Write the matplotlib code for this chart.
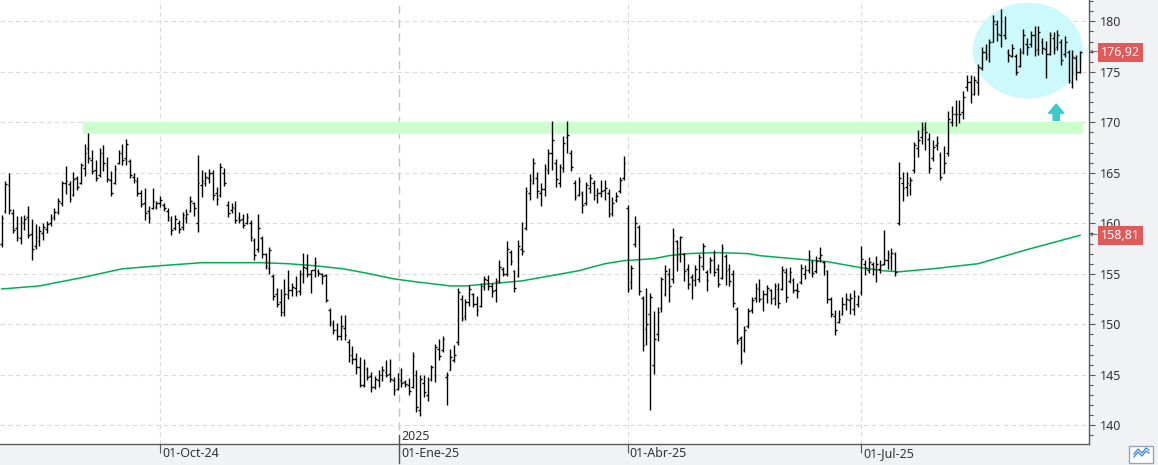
import matplotlib
matplotlib.use("Agg")
import matplotlib.pyplot as plt
import matplotlib.transforms as mtransforms
from matplotlib.collections import LineCollection
from matplotlib.patches import Ellipse, Rectangle
from matplotlib.lines import Line2D

plt.rcParams["font.family"] = ["Noto Sans", "DejaVu Sans"]

# daily bars (index 0 = first visible session)
HIGHS = [
    160.8, 164.2, 165.0, 161.4, 160.7, 160.7, 160.8, 161.7, 160.4, 159.9,
    159.7, 160.0, 160.2, 160.9, 161.5, 162.5, 164.2, 165.7, 164.2, 165.1,
    164.7, 166.0, 167.9, 168.9, 167.3, 166.3, 167.5, 167.8, 166.6, 165.2,
    165.8, 167.3, 167.9, 168.3, 166.4, 165.0, 164.6, 163.3, 163.5, 161.7,
    163.5, 162.2, 162.7,
    162.0, 161.5, 160.7, 160.8, 160.3, 161.1, 161.4, 162.7, 162.1, 166.8,
    165.3, 165.1, 165.4, 165.3, 163.6, 166.0, 165.5, 162.2, 162.0, 162.2,
    161.1, 160.9, 161.0, 160.3, 158.5, 160.9, 158.7, 157.1, 157.7, 155.0,
    153.6, 153.5, 154.5, 155.4, 154.1, 154.8, 155.4, 157.1, 157.0, 155.4,
    156.7,
    155.5, 155.1, 155.0, 151.6, 150.4, 150.1, 150.9, 150.9, 148.5, 147.9,
    147.2, 146.8, 146.6, 145.8, 145.3, 144.9, 145.5, 145.9, 146.5, 146.6,
    144.8, 145.2, 145.7, 144.5, 144.7, 147.3, 145.5, 145.0, 145.0, 144.8,
    146.0, 148.1, 148.5, 148.8, 145.3, 147.6, 148.0, 153.6, 152.9, 152.5,
    153.9,
    153.1, 152.8, 154.1, 154.8, 154.9, 154.1, 154.6, 156.4, 155.7, 158.2,
    157.4, 155.4, 158.3, 160.1, 163.6, 164.9, 166.5, 165.1, 164.0, 165.9,
    167.4, 170.1, 166.4, 165.9, 168.6, 170.1, 167.3, 164.3, 164.6, 163.2,
    164.1, 164.9, 164.3, 163.5, 164.3, 164.3, 163.4, 162.6, 163.1, 164.6,
    166.7,
    161.8, 155.9, 160.7, 159.8, 152.8, 153.6, 153.1, 151.3, 151.7, 154.7,
    155.9, 155.6, 159.5, 158.3, 158.7, 157.1, 156.0, 155.0, 155.9, 157.0,
    158.1, 155.4, 156.7, 157.4, 156.0, 158.0, 157.0, 156.0, 155.4, 151.7,
    148.8, 149.8, 151.6, 152.7, 154.1, 154.5, 153.4, 153.9, 153.5, 154.1,
    154.1,
    155.8, 155.6, 155.7, 154.6, 154.1, 156.0, 155.9, 157.4, 156.4, 156.8,
    157.7, 156.3, 155.4, 152.7, 151.4, 151.4, 152.7, 153.1, 153.1, 153.4,
    152.9, 157.8, 156.4, 156.7, 156.2, 156.8, 156.4, 159.3, 157.4, 157.6,
    157.2, 166.1, 165.1, 165.1, 164.6, 168.1, 169.2, 170.0, 170.0, 168.9,
    168.2,
    168.6, 167.1, 167.7, 171.1, 171.6, 172.2, 172.2, 173.1, 174.7, 174.7,
    174.6, 175.8, 177.5, 177.8, 178.2, 180.6, 180.1, 181.2, 180.5, 177.3,
    177.8, 176.8, 177.4, 179.2, 178.3, 179.0, 179.5, 179.5, 178.3, 178.1,
    178.9, 178.9, 179.1, 178.2, 178.5, 177.2, 177.2, 176.7, 177.1,
]
LOWS = [
    157.7, 161.0, 160.9, 159.0, 158.2, 158.0, 159.3, 158.5, 156.4, 157.5,
    157.8, 158.3, 159.0, 159.7, 160.3, 160.9, 161.7, 162.9, 162.1, 162.7,
    163.3, 163.9, 164.7, 166.0, 164.9, 164.2, 164.6, 165.2, 164.1, 162.7,
    163.9, 165.9, 165.8, 165.8, 164.5, 164.0, 162.7, 161.6, 160.3, 160.0,
    161.4, 161.4, 161.6,
    161.2, 160.2, 158.8, 159.3, 159.0, 159.3, 160.0, 161.1, 160.7, 159.1,
    162.6, 163.7, 164.0, 162.3, 161.8, 162.6, 163.7, 160.6, 161.0, 160.0,
    160.0, 159.5, 159.9, 158.2, 156.4, 157.2, 156.6, 155.5, 155.0, 152.4,
    151.7, 150.8, 150.8, 152.5, 152.8, 152.8, 152.9, 154.1, 154.7, 153.1,
    154.7,
    154.8, 154.0, 152.2, 149.8, 149.0, 148.4, 148.4, 148.4, 146.3, 146.1,
    145.1, 143.8, 143.8, 144.5, 143.3, 143.6, 143.8, 144.4, 144.8, 144.3,
    143.0, 143.5, 143.8, 143.8, 143.0, 143.7, 141.3, 140.9, 142.8, 142.4,
    144.4, 144.3, 146.5, 147.3, 142.0, 145.5, 146.3, 148.0, 150.3, 150.4,
    151.8,
    151.7, 150.8, 151.7, 153.4, 153.4, 152.7, 152.2, 154.1, 154.8, 154.8,
    155.9, 153.2, 154.7, 156.9, 159.3, 162.3, 163.9, 162.5, 161.7, 162.7,
    164.9, 165.3, 163.6, 163.6, 165.1, 167.0, 165.2, 162.3, 162.7, 161.0,
    161.8, 163.0, 162.3, 162.0, 162.6, 162.3, 160.6, 160.7, 162.1, 163.0,
    164.3,
    153.2, 153.5, 157.7, 152.9, 147.4, 148.0, 141.5, 145.1, 148.3, 151.2,
    152.8, 152.2, 154.1, 155.3, 156.2, 154.3, 153.5, 152.5, 153.8, 154.2,
    155.4, 153.3, 155.1, 154.8, 153.7, 154.5, 153.9, 153.8, 151.7, 148.1,
    146.1, 147.3, 149.6, 151.1, 152.2, 152.2, 151.3, 152.1, 152.0, 151.9,
    151.6,
    153.4, 152.2, 154.1, 153.1, 152.6, 154.0, 154.5, 155.1, 154.7, 155.1,
    156.2, 154.9, 152.1, 150.7, 148.9, 150.1, 150.9, 151.4, 151.0, 150.9,
    151.7, 152.9, 154.9, 155.1, 154.9, 154.2, 155.1, 155.9, 155.5, 155.4,
    154.8, 159.8, 162.2, 162.7, 162.8, 165.0, 166.6, 167.9, 167.3, 165.0,
    166.2,
    167.3, 164.3, 165.0, 166.7, 169.6, 169.6, 169.9, 170.3, 173.1, 171.9,
    172.7, 172.7, 175.2, 176.2, 176.0, 178.0, 178.1, 177.5, 178.2, 176.0,
    176.5, 174.7, 175.5, 176.8, 176.7, 177.5, 176.6, 176.7, 176.8, 174.4,
    176.7, 176.8, 177.2, 175.7, 176.5, 173.9, 173.4, 174.2, 174.9,
]
OPENS = [
    158.0, 161.2, 163.8, 161.0, 159.5, 158.5, 160.0, 160.6, 158.9, 157.8,
    158.2, 159.0, 159.4, 160.0, 160.6, 161.1, 162.0, 164.0, 163.9, 162.8,
    164.5, 164.0, 165.5, 167.5, 166.3, 165.3, 164.8, 167.0, 165.8, 164.3,
    164.0, 166.0, 167.0, 166.5, 166.2, 164.6, 164.2, 163.0, 162.0, 161.2,
    161.5, 161.6, 162.0,
    161.8, 161.2, 160.3, 159.5, 160.0, 159.6, 160.5, 161.2, 162.0, 160.0,
    163.8, 164.0, 164.5, 165.0, 163.0, 162.8, 165.0, 161.8, 161.3, 161.5,
    160.5, 160.4, 160.0, 160.0, 158.3, 157.5, 158.5, 157.0, 155.6, 154.8,
    153.0, 152.2, 151.2, 153.0, 153.4, 153.6, 153.3, 155.0, 155.6, 155.0,
    155.4,
    155.3, 155.0, 154.9, 151.4, 150.0, 149.4, 148.8, 149.6, 148.2, 147.0,
    146.6, 145.8, 144.0, 145.6, 144.9, 143.8, 144.5, 145.0, 145.3, 145.1,
    144.5, 143.6, 144.5, 144.3, 144.0, 143.8, 145.0, 141.5, 144.2, 143.0,
    144.6, 145.0, 147.6, 147.5, 144.8, 145.5, 146.5, 148.2, 152.5, 150.8,
    152.2,
    153.0, 152.0, 151.8, 153.8, 154.4, 153.8, 153.4, 154.3, 155.5, 155.0,
    157.2, 155.3, 154.8, 157.5, 159.5, 163.0, 164.0, 164.5, 163.0, 163.4,
    165.3, 167.0, 166.0, 164.0, 165.5, 168.5, 167.0, 164.0, 162.8, 163.0,
    162.0, 163.5, 164.0, 162.8, 163.0, 163.3, 163.0, 161.0, 162.3, 163.2,
    164.5,
    161.5, 154.2, 158.0, 159.6, 152.6, 149.5, 151.0, 146.0, 149.0, 151.6,
    153.0, 155.0, 154.5, 158.2, 157.0, 157.0, 155.5, 154.7, 154.4, 154.5,
    155.8, 155.2, 155.5, 156.4, 155.5, 154.6, 156.8, 155.5, 155.0, 151.5,
    148.6, 147.5, 149.8, 151.4, 152.6, 153.5, 152.6, 153.0, 153.4, 152.6,
    153.5,
    153.5, 155.2, 154.3, 154.4, 153.4, 154.2, 155.0, 155.4, 156.2, 155.3,
    156.6, 156.2, 155.3, 152.5, 150.8, 150.2, 151.0, 152.0, 152.4, 151.5,
    152.0, 153.2, 156.0, 155.4, 156.0, 155.5, 155.5, 156.0, 156.4, 156.7,
    157.0, 160.0, 164.0, 163.6, 163.8, 165.3, 167.5, 168.5, 169.5, 168.3,
    166.5,
    167.8, 166.8, 165.0, 167.0, 170.0, 170.8, 170.8, 171.0, 173.5, 174.0,
    172.8, 174.0, 175.4, 177.0, 176.8, 178.0, 179.7, 178.6, 178.6, 177.0,
    176.6, 176.6, 175.6, 177.0, 177.8, 177.8, 178.6, 177.3, 178.0, 177.3,
    176.8, 178.3, 177.5, 178.0, 176.8, 177.0, 174.0, 176.4, 175.0,
]
CLOSES = [
    160.5, 163.9, 161.3, 159.3, 158.6, 160.1, 160.4, 158.8, 157.5, 158.6,
    159.2, 159.6, 159.9, 160.5, 161.1, 162.2, 164.0, 164.2, 162.4, 164.4,
    163.6, 165.8, 167.0, 166.5, 165.2, 164.5, 167.0, 166.0, 164.4, 163.0,
    165.4, 167.0, 166.3, 167.9, 164.8, 164.3, 163.0, 161.9, 161.0, 160.5,
    162.2, 162.0, 162.3,
    161.5, 160.6, 159.3, 160.4, 159.4, 160.8, 160.9, 162.2, 161.5, 164.0,
    164.2, 164.6, 165.0, 162.8, 162.4, 165.6, 164.0, 161.0, 161.6, 160.3,
    160.3, 159.8, 160.6, 158.6, 156.9, 159.5, 157.0, 155.8, 157.4, 152.8,
    152.0, 151.2, 153.0, 153.4, 153.7, 153.2, 155.0, 155.7, 155.0, 155.4,
    156.2,
    155.1, 154.8, 152.4, 150.2, 149.4, 148.8, 149.8, 148.9, 147.0, 146.6,
    145.8, 144.0, 146.2, 144.8, 143.8, 144.6, 145.0, 145.5, 145.0, 144.6,
    143.5, 144.6, 144.2, 144.1, 143.4, 146.9, 141.8, 144.6, 143.3, 144.5,
    145.8, 147.8, 146.9, 148.5, 145.0, 146.8, 147.0, 153.2, 150.6, 152.2,
    153.5,
    152.0, 151.4, 153.8, 154.5, 153.8, 153.3, 154.3, 155.7, 155.0, 157.5,
    156.3, 153.6, 157.8, 157.3, 163.2, 164.3, 166.0, 163.2, 163.4, 165.5,
    167.0, 168.2, 164.4, 165.6, 168.0, 168.7, 165.6, 162.6, 164.2, 161.8,
    163.8, 164.5, 162.8, 163.0, 163.2, 163.5, 160.9, 162.0, 162.7, 164.3,
    166.0,
    153.5, 155.6, 160.0, 153.3, 148.0, 150.0, 152.7, 148.5, 151.2, 154.5,
    155.3, 153.8, 158.8, 157.6, 158.6, 155.3, 154.0, 154.4, 155.5, 156.7,
    157.8, 154.4, 156.4, 155.2, 154.0, 157.6, 155.3, 154.3, 152.1, 148.4,
    146.4, 149.4, 151.3, 152.4, 153.6, 152.5, 153.0, 153.6, 152.5, 153.8,
    152.1,
    155.4, 152.7, 155.2, 153.4, 153.3, 155.6, 155.4, 156.8, 155.1, 156.3,
    156.9, 155.8, 152.5, 151.0, 149.4, 150.5, 152.0, 152.5, 152.6, 152.8,
    152.7, 156.5, 155.6, 156.2, 155.5, 156.0, 155.9, 156.4, 157.0, 157.1,
    155.2, 164.5, 163.5, 164.0, 164.3, 167.8, 168.2, 169.3, 169.0, 165.5,
    167.6,
    168.0, 164.6, 166.0, 170.3, 170.8, 170.8, 170.8, 172.5, 174.0, 172.8,
    174.2, 175.5, 177.0, 176.5, 178.0, 180.0, 178.7, 180.0, 178.3, 176.7,
    177.4, 175.0, 177.0, 178.6, 177.5, 178.6, 177.2, 178.9, 177.4, 176.8,
    178.6, 177.3, 178.6, 176.2, 178.0, 174.2, 176.5, 175.0, 176.92,
]

# moving average (green line), bar index -> value
MA_IDX = [0, 10, 21, 32, 42, 53, 69, 76, 83, 90.5, 97, 104, 110, 119, 123,
          132, 138, 147, 153, 160, 165, 173, 177, 182, 190, 198, 201, 210,
          219, 228, 234, 238, 247, 259, 272, 286]
MA_VAL = [153.5, 153.8, 154.6, 155.5, 155.8, 156.1, 156.1, 156.0, 155.8,
          155.5, 155.05, 154.5, 154.2, 153.8, 153.8, 154.1, 154.3, 154.9,
          155.3, 156.0, 156.3, 156.5, 156.8, 157.0, 157.1, 157.0, 156.8,
          156.5, 156.2, 155.6, 155.3, 155.2, 155.5, 156.0, 157.4, 158.81]

TICK_IDX = [42, 105.5, 166, 228]
TICK_LABELS = ["01-Oct-24", "01-Ene-25", "01-Abr-25", "01-Jul-25"]
YEAR_IDX = 105.5
YEAR_LABEL = "2025"

# drawn annotations
ZONE_LOW, ZONE_HIGH = 168.85, 170.05
ZONE_FROM, ZONE_TO = 21.6, 286.8
CIRCLE_X, CIRCLE_Y, CIRCLE_W, CIRCLE_H = 272.2, 177.1, 29.2, 9.5
ARROW_X, ARROW_FROM, ARROW_TO = 279.7, 170.2, 171.8

assert len(HIGHS) == len(LOWS) == len(OPENS) == len(CLOSES)

W, H = 1158, 465
fig = plt.figure(figsize=(W / 100, H / 100), dpi=100, facecolor="#f1f2f4")
ax = fig.add_axes([0, 21 / H, 1089 / W, 444 / H])
ax.set_facecolor("white")
ax.set_axisbelow(True)
ax.set_xlim(-0.45, 288.4)
ax.set_ylim(138.15, 182.11)

# support zone and highlight
ax.add_patch(Rectangle((ZONE_FROM, ZONE_LOW), ZONE_TO - ZONE_FROM,
                       ZONE_HIGH - ZONE_LOW, facecolor="#ccffcc",
                       edgecolor="none", zorder=1))
ax.add_patch(Ellipse((CIRCLE_X, CIRCLE_Y), CIRCLE_W, CIRCLE_H,
                     facecolor="#ccf9fc", edgecolor="none", zorder=1))
ax.annotate("", xy=(ARROW_X, ARROW_TO), xytext=(ARROW_X, ARROW_FROM),
            arrowprops=dict(arrowstyle="simple,head_length=0.65,head_width=1.1,tail_width=0.45",
                            color="#3cc9c9", mutation_scale=10,
                            shrinkA=0, shrinkB=0), zorder=2)

# moving average
ax.plot(MA_IDX, MA_VAL, color="#00b050", lw=1.1, zorder=2)

# OHLC bars
segs = []
for i, (h, l, o, c) in enumerate(zip(HIGHS, LOWS, OPENS, CLOSES)):
    segs.append([(i, l), (i, h)])
    segs.append([(i - 0.45, o), (i, o)])
    segs.append([(i, c), (i + 0.45, c)])
ax.add_collection(LineCollection(segs, colors="black", linewidths=1.0, zorder=3))

# y axis on the right
ax.yaxis.tick_right()
ax.set_yticks(range(140, 181, 5))
ax.set_yticks(range(139, 183), minor=True)
ax.tick_params(axis="y", which="major", length=4, width=0.8, pad=4,
               colors="#555555", labelcolor="#333333", labelsize=9)
ax.tick_params(axis="y", which="minor", length=2.8, width=0.8, colors="#555555")
ax.yaxis.grid(True, which="major", color="#dadada", lw=0.8, linestyle=(0, (4, 3)))

# x axis
ax.set_xticks(TICK_IDX)
ax.set_xticklabels(TICK_LABELS, ha="left")
ax.tick_params(axis="x", length=6.5, width=0.8, pad=-4.5, colors="#555555",
               labelcolor="#333333", labelsize=9)
offset = mtransforms.ScaledTranslation(2 / 100, 0, fig.dpi_scale_trans)
for lbl in ax.get_xticklabels():
    lbl.set_transform(lbl.get_transform() + offset)

for t in TICK_IDX:
    if t == YEAR_IDX:
        ax.axvline(t, color="#c4c4c4", lw=1.0, linestyle=(0, (6, 4)), zorder=0.5)
    else:
        ax.axvline(t, color="#dadada", lw=0.8, linestyle=(0, (4, 3)), zorder=0.5)

# year marker: label inside the plot and a longer tick through the axis
ax.text(YEAR_IDX + 0.4, 8 / 444, YEAR_LABEL, transform=ax.get_xaxis_transform(),
        ha="left", va="center", fontsize=9, color="#333333")
ax.axvline(YEAR_IDX, ymin=-19 / 444, ymax=9 / 444, color="#555555", lw=1.0,
           clip_on=False, zorder=5)

for side in ["top", "left"]:
    ax.spines[side].set_visible(False)
for side in ["right", "bottom"]:
    ax.spines[side].set_color("#5a5a5a")
    ax.spines[side].set_linewidth(1.0)

# price tags on the right
yblend = mtransforms.blended_transform_factory(ax.transAxes, ax.transData)
for val in [CLOSES[-1], MA_VAL[-1]]:
    label = f"{val:.2f}".replace(".", ",")
    ax.text(1 + 12 / 1089, val, label, transform=yblend, ha="left", va="center",
            color="white", fontsize=9, clip_on=False, zorder=10,
            bbox=dict(boxstyle="square,pad=0.22", fc="#e05a5a", ec="none"))
    ax.text(1 + 1 / 1089, val, "\u2190", transform=yblend, ha="left", va="center",
            color="#555555", fontsize=7, clip_on=False, zorder=10)

# small icon in the bottom-right corner
fig.patches.append(Rectangle((1129 / W, 2 / H), 24 / W, 17 / H,
                             transform=fig.transFigure, facecolor="white",
                             edgecolor="#9aa4b4", lw=1.0))
for dy in (0, 3):
    fig.lines.append(Line2D([1134 / W, 1138 / W, 1142 / W, 1146 / W, 1149 / W],
                            [(8 + dy) / H, (13 + dy) / H, (9 + dy) / H,
                             (14 + dy) / H, (12 + dy) / H],
                            transform=fig.transFigure, color="#4a8fd6", lw=1.0))

fig.savefig("out.png", dpi=100, facecolor=fig.get_facecolor())
